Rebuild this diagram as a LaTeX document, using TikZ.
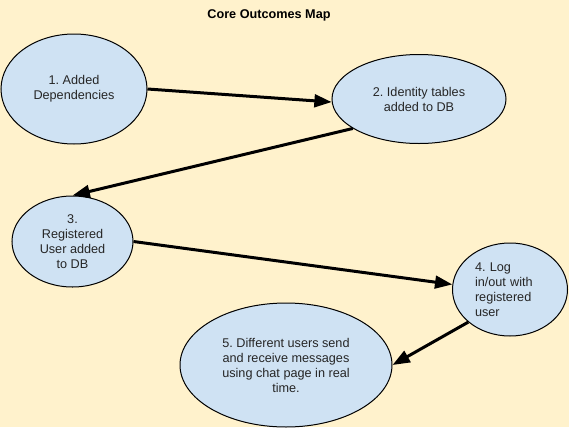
\documentclass[tikz,border=0pt]{standalone}
\usepackage{fontspec}
\setmainfont{Liberation Sans}
\usetikzlibrary{shapes.geometric,arrows.meta}

\definecolor{pagecol}{RGB}{255,242,204}
\definecolor{bubblecol}{RGB}{207,226,243}

\tikzset{every picture/.style={line width=0.75pt}}
\tikzset{
  outcome/.style={ellipse,draw=black,fill=bubblecol,inner sep=0pt,align=center,
    font=\fontsize{9.5}{11.25}\selectfont,text=black!85},
  flow/.style={line width=2.25pt,-{Triangle[length=13pt,width=9.5pt]}}
}

\begin{document}
\frenchspacing
\begin{tikzpicture}[x=0.75pt,y=0.75pt,yscale=-1,xscale=1]
%Shape: Rectangle [id:page]
\fill[pagecol] (0,0) rectangle (569,427);

% Text Node
\node[font=\bfseries\fontsize{9.5}{11.25}\selectfont] (title) at (269,15) {Core Outcomes Map};

%Shape: Ellipse [id:step1]
\node[outcome,minimum width=109.5pt,minimum height=82.5pt] (added) at (74,89) {1. Added\\Dependencies};
%Shape: Ellipse [id:step2]
\node[outcome,minimum width=130.5pt,minimum height=66.75pt] (identity) at (419,99) {2. Identity tables\\added to DB};
%Shape: Ellipse [id:step3]
\node[outcome,minimum width=90.75pt,minimum height=68.25pt] (registered) at (72.5,241.5) {3.\\Registered\\User added\\to DB};
%Shape: Ellipse [id:step4]
\node[outcome,minimum width=86.25pt,minimum height=69.75pt,align=left,text width=52.5pt] (login) at (510,289.5) {4. Log\\in/out with\\registered\\user};
%Shape: Ellipse [id:step5]
\node[outcome,minimum width=159pt,minimum height=93pt] (chat) at (286,365) {5. Different users send\\and receive messages\\using chat page in real\\time.};

%Straight Lines [id:flow12]
\draw[flow] (added.east) -- (identity.182);
%Straight Lines [id:flow23]
\draw[flow] (identity.204) -- (registered.north);
%Straight Lines [id:flow34]
\draw[flow] (registered.east) -- (login.175);
%Straight Lines [id:flow45]
\draw[flow] (login.218) -- (chat.east);

\end{tikzpicture}
\end{document}
